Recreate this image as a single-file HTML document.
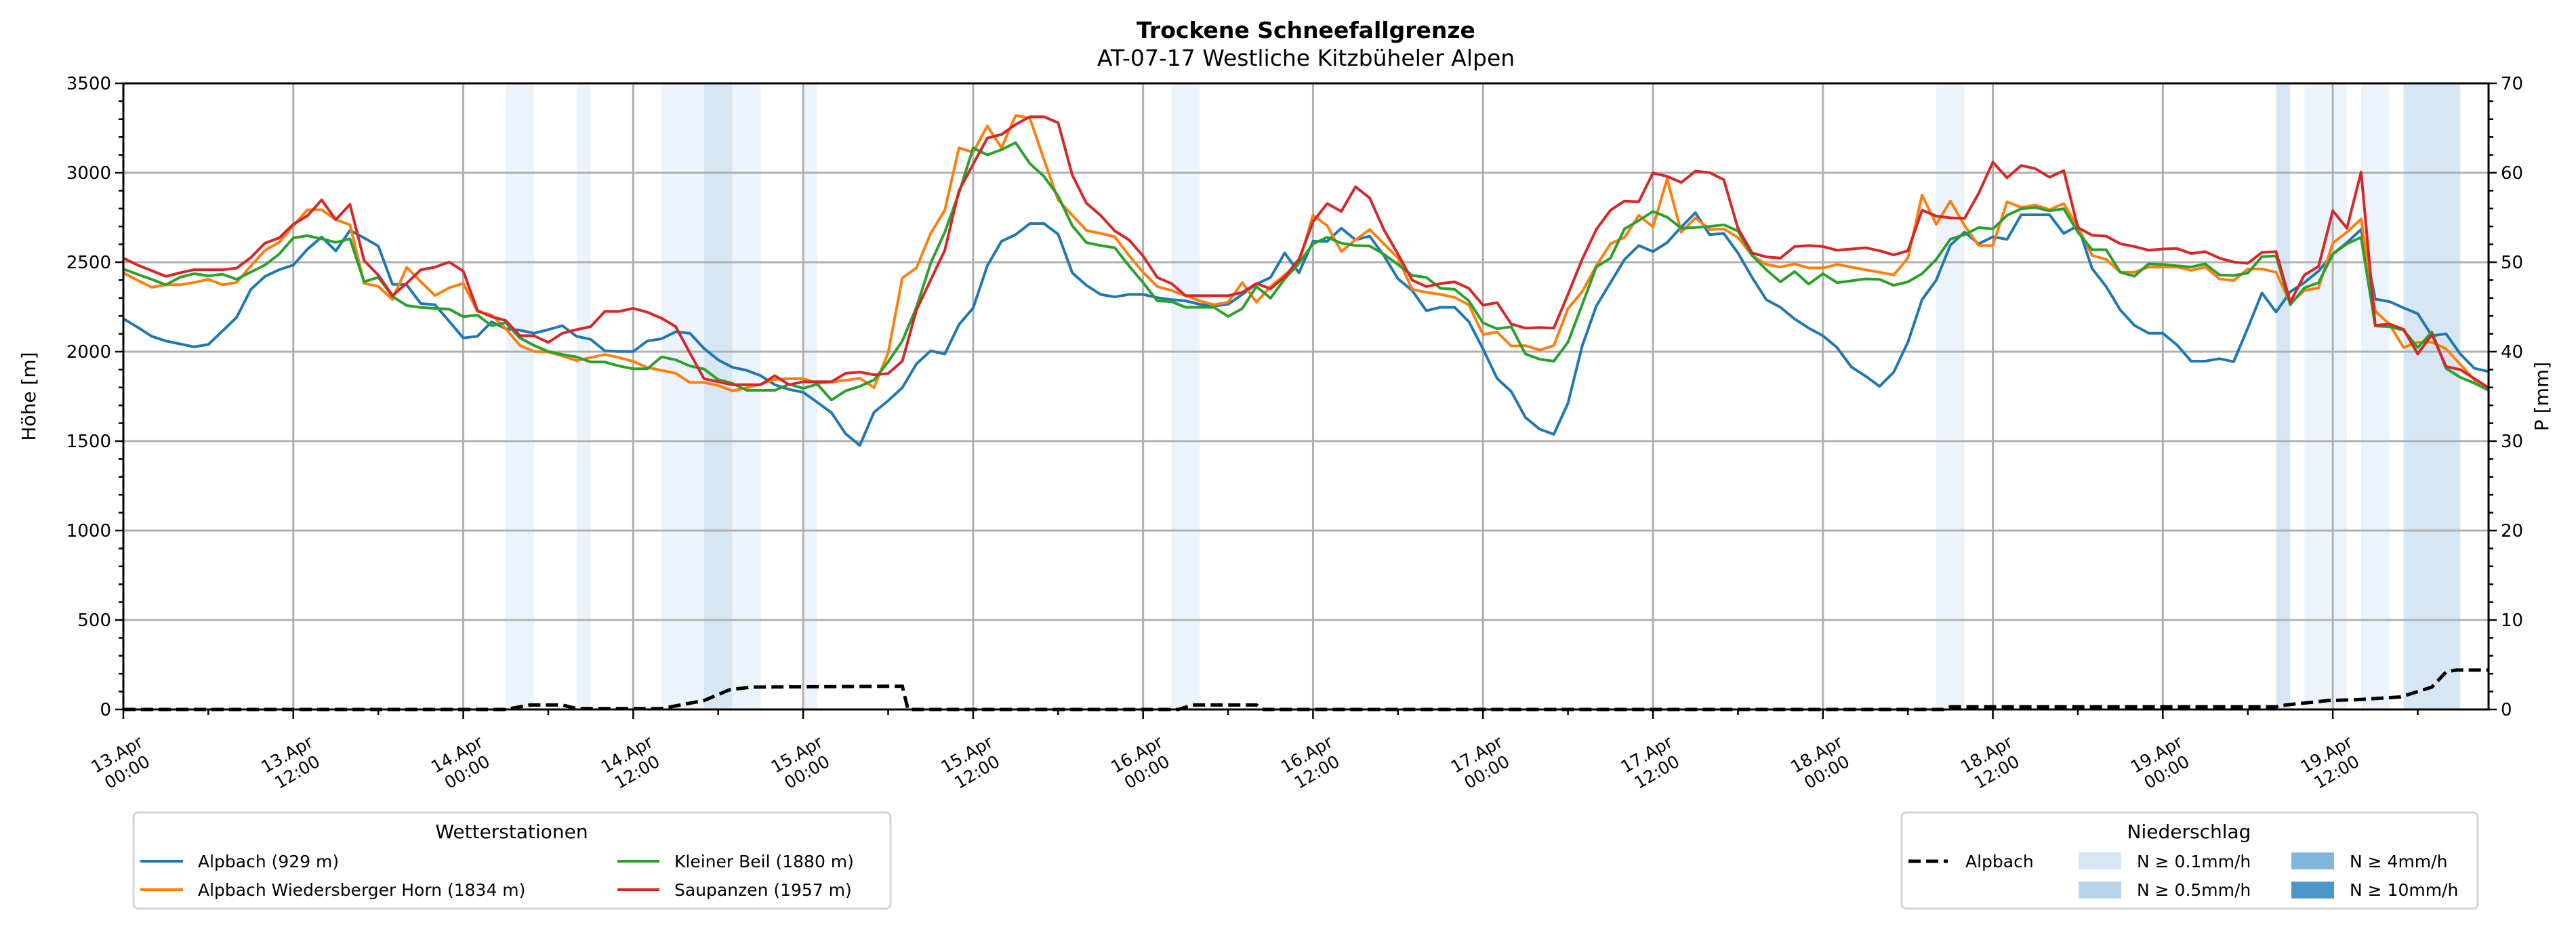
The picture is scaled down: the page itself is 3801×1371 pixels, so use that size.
<!DOCTYPE html>
<html><head><meta charset="utf-8">
<style>
html,body{margin:0;padding:0;background:#fff;}
svg{display:block;font-family:"DejaVu Sans","Liberation Sans",sans-serif;}
</style></head>
<body>
<svg id="chart" width="3801" height="1371" viewBox="0 0 3801 1371" xmlns="http://www.w3.org/2000/svg">
<rect width="3801" height="1371" fill="#fff"/>
<g id="shades"></g>
<g id="grid"></g>
<g id="series"></g>
<g id="axes"></g>
<text x="1927" y="56" text-anchor="middle" font-size="33" font-weight="bold">Trockene Schneefallgrenze</text>
<text x="1927" y="97" text-anchor="middle" font-size="33">AT-07-17 Westliche Kitzbüheler Alpen</text>
<text transform="translate(52,585) rotate(-90)" text-anchor="middle" font-size="28">Höhe [m]</text>
<text transform="translate(3760,585) rotate(-90)" text-anchor="middle" font-size="28">P [mm]</text>

<g>
<rect x="197" y="1199" width="1117" height="142" rx="7" fill="#fff" stroke="#d4d4d4" stroke-width="3"/>
<text x="755" y="1237" text-anchor="middle" font-size="28">Wetterstationen</text>
<g><line x1="207" y1="1271" x2="270" y2="1271" stroke="#1f77b4" stroke-width="4"/><text x="292" y="1280" font-size="25">Alpbach (929 m)</text></g>
<g><line x1="207" y1="1313" x2="270" y2="1313" stroke="#ff7f0e" stroke-width="4"/><text x="292" y="1322" font-size="25">Alpbach Wiedersberger Horn (1834 m)</text></g>
<g><line x1="911" y1="1271" x2="973" y2="1271" stroke="#2ca02c" stroke-width="4"/><text x="995" y="1280" font-size="25">Kleiner Beil (1880 m)</text></g>
<g><line x1="911" y1="1313" x2="973" y2="1313" stroke="#d62728" stroke-width="4"/><text x="995" y="1322" font-size="25">Saupanzen (1957 m)</text></g>
</g>

<g>
<rect x="2806" y="1199" width="850" height="142" rx="7" fill="#fff" stroke="#d4d4d4" stroke-width="3"/>
<text x="3230" y="1237" text-anchor="middle" font-size="28">Niederschlag</text>
<g><line x1="2816" y1="1271" x2="2874" y2="1271" stroke="#000" stroke-width="5" stroke-dasharray="18,8"/><text x="2900" y="1280" font-size="25">Alpbach</text></g>
<g><rect x="3067" y="1258" width="63" height="25" fill="#d6e6f4"/><text x="3153" y="1280" font-size="25">N ≥ 0.1mm/h</text></g>
<g><rect x="3067" y="1301" width="63" height="25" fill="#b8d4ea"/><text x="3153" y="1322" font-size="25">N ≥ 0.5mm/h</text></g>
<g><rect x="3381" y="1258" width="63" height="25" fill="#7fb6d9"/><text x="3467" y="1280" font-size="25">N ≥ 4mm/h</text></g>
<g><rect x="3381" y="1301" width="63" height="25" fill="#4b98c9"/><text x="3467" y="1322" font-size="25">N ≥ 10mm/h</text></g>
</g>
</svg>
<script>
// ---- data ----
const alpbach = [2184,2137,2086,2060,2043,2027,2040,2116,2192,2348,2421,2458,2484,2573,2641,2563,2678,2636,2590,2377,2374,2269,2262,2170,2077,2086,2167,2128,2120,2103,2123,2145,2086,2069,2005,2001,2001,2060,2072,2111,2103,2018,1954,1913,1896,1866,1815,1789,1773,1717,1659,1541,
1476,1661,1726,1799,1932,2005,1987,2151,2244,2480,2617,2654,2716,2716,2657,2441,2371,2320,2306,2320,2320,2302,2291,2284,2265,2255,2265,2320,2378,2415,2552,2441,2617,2617,2690,2625,2646,2538,2407,2342,2229,2248,2248,2168,2016,1850,1777,1632,1567,1538,1712,2031,2255,2386,2516,2593,2560,
2610,2697,2777,2654,2661,2552,2415,2291,2248,2183,2132,2089,2023,1915,1864,1806,1886,2053,2291,2400,2596,2668,2603,2642,2628,2765,2765,2765,2661,2704,2465,2364,2233,2147,2103,2103,2038,1947,1947,1961,1944,2132,2328,2222,2335,2386,2451,2545,2610,2683,2294,2280,2245,2212,2089,2100,1987,1907,1889];
const wiedersberger = [2441,2399,2360,2374,2374,2387,2404,2374,2387,2479,2567,2611,2704,2793,2793,2738,2709,2382,2365,2292,2472,2391,2314,2357,2382,2225,2204,2128,2035,2001,1998,1976,1950,1967,1984,1967,1946,1911,1896,1879,1828,1828,1811,1781,1798,1818,1845,1849,1849,1823,1830,1840,
1852,1799,1994,2412,2468,2661,2791,3139,3114,3262,3139,3320,3306,3074,2849,2762,2678,2661,2642,2538,2444,2364,2342,2313,2284,2262,2277,2386,2277,2364,2429,2494,2762,2704,2560,2625,2683,2603,2523,2349,2332,2320,2303,2262,2096,2110,2031,2034,2009,2034,2241,2335,2480,2603,2639,2762,2697,
2965,2668,2748,2683,2686,2639,2538,2487,2473,2490,2468,2468,2487,2473,2458,2444,2429,2523,2875,2712,2842,2704,2593,2593,2838,2806,2820,2794,2828,2697,2538,2516,2444,2444,2473,2473,2473,2454,2473,2407,2397,2462,2462,2444,2270,2342,2357,2607,2668,2741,2226,2154,2023,2053,2053,2016,1929,1842,1799];
const kleinerBeil = [2462,2433,2404,2374,2416,2436,2424,2433,2404,2445,2484,2546,2636,2648,2631,2611,2631,2391,2416,2309,2258,2247,2242,2238,2196,2204,2145,2162,2077,2035,2001,1984,1971,1942,1942,1920,1904,1904,1971,1954,1920,1903,1844,1823,1784,1784,1784,1818,1795,1818,1730,1781,
1806,1842,1943,2060,2248,2494,2668,2886,3139,3100,3129,3168,3052,2980,2871,2704,2610,2593,2581,2480,2386,2284,2280,2248,2248,2248,2197,2241,2364,2299,2407,2494,2603,2639,2607,2593,2591,2545,2487,2426,2415,2354,2349,2284,2161,2128,2139,1987,1958,1947,2053,2262,2473,2523,2687,2733,2784,
2752,2690,2694,2700,2709,2675,2538,2458,2390,2448,2378,2436,2386,2396,2407,2404,2371,2390,2436,2516,2629,2654,2694,2686,2762,2799,2806,2787,2799,2668,2570,2570,2444,2422,2491,2487,2480,2473,2491,2429,2426,2439,2531,2535,2262,2357,2386,2545,2603,2639,2144,2139,2120,2023,2110,1907,1857,1824,1784];
const saupanzen = [2523,2484,2453,2421,2441,2458,2458,2458,2467,2526,2607,2636,2712,2760,2848,2738,2823,2509,2428,2314,2382,2458,2472,2501,2450,2230,2196,2174,2089,2089,2052,2103,2123,2140,2225,2225,2242,2221,2187,2140,1993,1849,1832,1815,1815,1815,1866,1815,1832,1832,1832,1879,
1886,1871,1878,1947,2233,2400,2567,2900,3048,3194,3214,3270,3313,3313,3280,2987,2830,2762,2675,2625,2535,2415,2381,2313,2313,2313,2313,2332,2381,2352,2419,2516,2726,2828,2784,2922,2859,2683,2545,2400,2364,2381,2390,2354,2260,2274,2154,2132,2135,2132,2320,2516,2683,2791,2842,2838,2999,
2980,2946,3009,3001,2961,2690,2552,2530,2523,2588,2593,2588,2567,2574,2581,2564,2541,2564,2791,2758,2748,2745,2886,3059,2972,3041,3023,2975,3012,2694,2651,2646,2603,2588,2567,2574,2577,2549,2559,2523,2501,2494,2555,2559,2277,2429,2477,2788,2690,3004,2147,2154,2125,1987,2096,1917,1900,1849,1799];
const precipHours = [0,27,28.7,31,32,38,41,42.8,44.3,55,55.4,74.5,75.5,80,80.5,128.5,129,152,152.7,155.7,157.8,160.8,163,164,164.7,167];
const precipMm    = [0,0,0.5,0.5,0.1,0.1,1.0,2.2,2.5,2.6,0,0,0.5,0.5,0,0,0.3,0.3,0.5,1.0,1.1,1.4,2.5,4.2,4.4,4.4];
const shadeStart = [27,32,38,41,43,48,74,128,152,154,158,161];
const shadeEnd   = [29,33,41,43,45,49,76,130,153,157,160,165];
const shadeLevel = [0.1,0.1,0.1,0.5,0.1,0.1,0.1,0.1,0.5,0.1,0.1,0.5];
const yTicks = [0,500,1000,1500,2000,2500,3000,3500];
const y2Ticks = [0,10,20,30,40,50,60,70];
const xTickDays = ["13.Apr","13.Apr","14.Apr","14.Apr","15.Apr","15.Apr","16.Apr","16.Apr","17.Apr","17.Apr","18.Apr","18.Apr","19.Apr","19.Apr"];
const xTickTimes = ["00:00","12:00","00:00","12:00","00:00","12:00","00:00","12:00","00:00","12:00","00:00","12:00","00:00","12:00"];

// ---- scales ----
const X0=182, X1=3672, Y0=1047, Y1=123, HMAX=167;
const xs = h => X0 + h*(X1-X0)/HMAX;
const ys = m => Y0 - m*(Y0-Y1)/3500;
const yp = p => Y0 - p*(Y0-Y1)/70;
const NS="http://www.w3.org/2000/svg";
function mk(tag, attrs, parent){const e=document.createElementNS(NS,tag);for(const k in attrs)e.setAttribute(k,attrs[k]);parent.appendChild(e);return e;}
const gS=document.getElementById('shades'), gG=document.getElementById('grid'), gL=document.getElementById('series'), gA=document.getElementById('axes');

shadeStart.forEach((s,i)=>{
  const r=mk('rect',{x:xs(s),y:Y1,width:xs(shadeEnd[i])-xs(s),height:Y0-Y1,fill:shadeLevel[i]>=0.5?'#d6e6f3':'#edf3fa'},gS);
  
  
});
yTicks.forEach(v=>{
  const l=mk('line',{x1:X0,x2:X1,y1:ys(v),y2:ys(v),stroke:'#b0b0b0','stroke-width':3},gG);
  
  
});
xTickDays.forEach((d,i)=>{
  const l=mk('line',{x1:xs(i*12),x2:xs(i*12),y1:Y1,y2:Y0,stroke:'#b0b0b0','stroke-width':3},gG);
  
  
});

const series=[[alpbach,'#1f77b4','line-alpbach'],[wiedersberger,'#ff7f0e','line-wiedersberger-horn'],[kleinerBeil,'#2ca02c','line-kleiner-beil'],[saupanzen,'#d62728','line-saupanzen']];
series.forEach(([arr,c,n])=>{
  const pts=arr.map((v,i)=>xs(i).toFixed(1)+','+ys(v).toFixed(1)).join(' ');
  const p=mk('polyline',{points:pts,fill:'none',stroke:c,'stroke-width':4,'stroke-linejoin':'round'},gL);
  
  
});
const pp=mk('polyline',{points:precipHours.map((h,i)=>xs(h).toFixed(1)+','+yp(precipMm[i]).toFixed(1)).join(' '),fill:'none',stroke:'#000','stroke-width':5,'stroke-dasharray':'18,8'},gL);



const fr=mk('rect',{x:X0,y:Y1,width:X1-X0,height:Y0-Y1,fill:'none',stroke:'#000','stroke-width':3},gA);


for(let v=0;v<=3500;v+=100){
  const major=v%500===0;
  mk('line',{x1:X0-(major?12:7),x2:X0,y1:ys(v),y2:ys(v),stroke:'#000','stroke-width':2.5},gA);
}
yTicks.forEach(v=>{
  const t=mk('text',{x:X0-18,y:ys(v)+9,'text-anchor':'end','font-size':26},gA);
  t.textContent=v;
  
  
});
for(let v=0;v<=70;v+=2){
  const major=v%10===0;
  mk('line',{x1:X1,x2:X1+(major?12:7),y1:yp(v),y2:yp(v),stroke:'#000','stroke-width':2.5},gA);
}
y2Ticks.forEach(v=>{
  const t=mk('text',{x:X1+18,y:yp(v)+9,'text-anchor':'start','font-size':26},gA);
  t.textContent=v;
  
  
});
for(let h=0;h<=HMAX;h+=6){
  const major=h%12===0;
  mk('line',{x1:xs(h),x2:xs(h),y1:Y0,y2:Y0+(major?14:8),stroke:'#000','stroke-width':2.5},gA);
}
xTickDays.forEach((d,i)=>{
  const cx=xs(i*12)-2, cy=1126;
  const t=mk('text',{transform:`translate(${cx},${cy}) rotate(-30)`,'text-anchor':'middle','font-size':25},gA);
  
  
  const a=mk('tspan',{x:0,y:-6},t); a.textContent=d;
  const b=mk('tspan',{x:0,y:24},t); b.textContent=xTickTimes[i];
});
</script>
</body></html>
